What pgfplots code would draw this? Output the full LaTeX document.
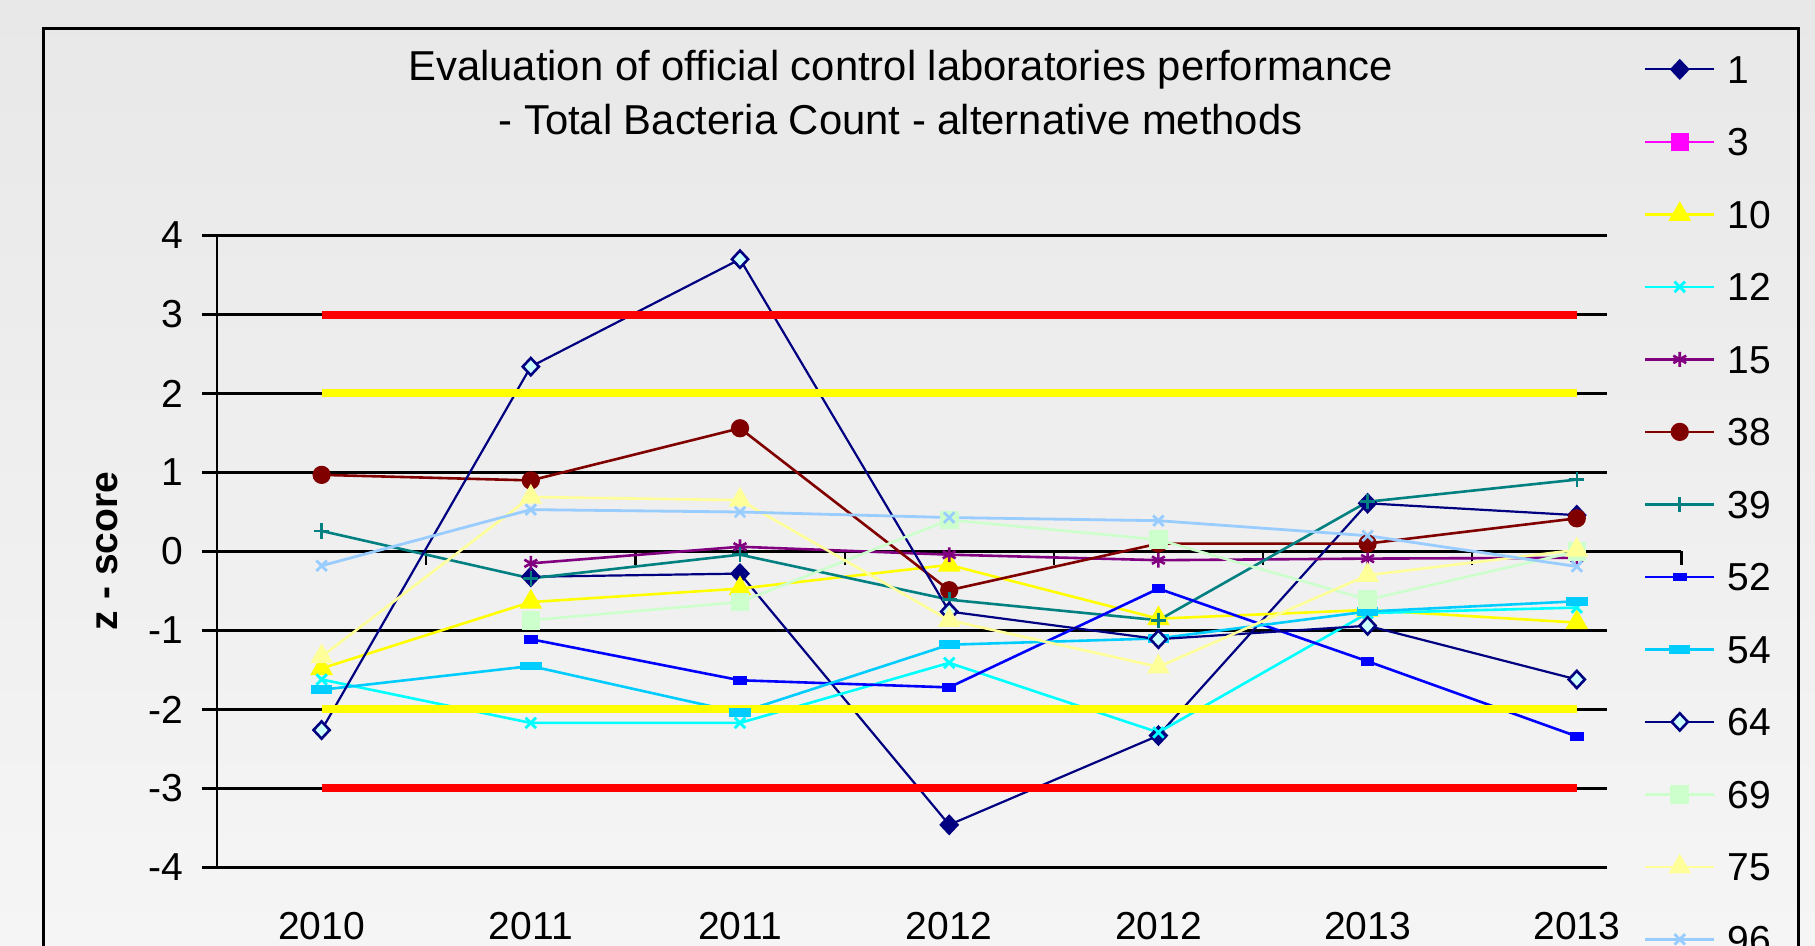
\documentclass[border=0pt]{standalone}
\usepackage{fontspec}
\setmainfont{Liberation Sans}
\usepackage{pgfplots}
\pgfplotsset{compat=1.18}
\definecolor{cnavy}{HTML}{000080}
\definecolor{cmag}{HTML}{FF00FF}
\definecolor{cyel}{HTML}{FFFF00}
\definecolor{ccyan}{HTML}{00FFFF}
\definecolor{cpurple}{HTML}{800080}
\definecolor{cmaroon}{HTML}{800000}
\definecolor{cteal}{HTML}{008080}
\definecolor{cblue}{HTML}{0000FF}
\definecolor{csky}{HTML}{00CCFF}
\definecolor{cltcyan}{HTML}{CCFFFF}
\definecolor{cltgreen}{HTML}{CCFFCC}
\definecolor{cltyel}{HTML}{FFFF99}
\definecolor{cpale}{HTML}{99CCFF}
\definecolor{cred}{HTML}{FF0000}
\definecolor{bgtop}{HTML}{E8E8E8}
\definecolor{bgbot}{HTML}{F5F5F5}
\begin{document}
\begin{tikzpicture}
\useasboundingbox (0,0) rectangle (907.5pt,473pt);
\clip (0,0) rectangle (907.5pt,473pt);
\shade[top color=bgtop, bottom color=bgbot] (0,0) rectangle (907.5pt,473pt);
\draw[black, line width=1.5pt] (21.65pt,-10pt) -- (21.65pt,458.85pt) -- (899.1pt,458.85pt) -- (899.1pt,-10pt);
\node[anchor=base, font=\fontsize{20.9}{24}\selectfont] at (450.25pt,432.5pt) {Evaluation of official control laboratories performance};
\node[anchor=base, font=\fontsize{20.9}{24}\selectfont] at (450.25pt,405.9pt) {- Total Bacteria Count - alternative methods};
\node[rotate=90, font=\fontsize{19.5}{23}\selectfont\bfseries] at (53.35pt,197.5pt) {z - score};
\begin{axis}[
  at={(108.5pt,39.25pt)}, anchor=south west,
  scale only axis, width=732.2pt, height=316pt,
  xmin=-0.5, xmax=6.5, ymin=-4, ymax=4,
  clip=false,
  axis line style={draw=none},
  major tick length=0pt,
  tick style={draw=none},
  xtick={0,...,6}, xticklabels={2010,2011,2011,2012,2012,2013,2013},
  ytick={-4,...,4}, yticklabels={-4,-3,-2,-1,0,1,2,3,4},
  xticklabel style={anchor=base, inner sep=0pt, yshift=-36.25pt},
  yticklabel style={anchor=east, inner sep=0pt, xshift=-16.5pt},
  tick label style={font=\fontsize{19.5}{23}\selectfont},
  legend cell align=left,
  legend style={at={(0.9743,1.2850)}, anchor=north west, draw=none, fill=none,
    inner sep=0pt, outer sep=0pt, row sep=22.25pt, column sep=5.85pt,
    font=\fontsize{19.5}{23}\selectfont,
    nodes={inner sep=0pt, text height=14pt, text depth=0pt}},
  legend image code/.code={\draw[mark repeat=2,mark phase=2,#1] plot coordinates {(0pt,0pt)(17.3pt,0pt)(34.65pt,0pt)};},
]
% gridlines
\pgfplotsinvokeforeach{-4,-3,-2,-1,1,2,3,4}{
  \addplot[black, line width=1.4pt, forget plot] coordinates {(-0.572,#1) (6.145,#1)};
}
\addplot[black, line width=1.4pt, forget plot] coordinates {(-0.572,0) (6.5,0)};
\pgfplotsinvokeforeach{0.5,1.5,2.5,3.5,4.5,5.5,6.5}{
  \addplot[black, line width=1.1pt, forget plot] coordinates {(#1,0) (#1,-0.177)};
}
\addplot[black, line width=1.4pt, forget plot] coordinates {(-0.5,-4) (-0.5,4)};
% series
\addplot[cnavy, line width=1.1pt, mark=diamond*, mark size=4.5pt, mark options={fill=cnavy, xscale=1.25}]
  coordinates {(1,-0.32)(2,-0.28)(3,-3.46)(4,-2.33)(5,0.61)(6,0.46)};
\addlegendentry{1}
\addlegendimage{cmag, line width=1.3pt, mark=square*, mark size=3.9pt, mark options={fill=cmag}}
\addlegendentry{3}
\addplot[cyel, line width=1.3pt, mark=triangle*, mark size=5.3pt, mark options={fill=cyel}]
  coordinates {(0,-1.48)(1,-0.64)(2,-0.47)(3,-0.17)(4,-0.85)(5,-0.74)(6,-0.90)};
\addlegendentry{10}
\addplot[ccyan, line width=1.3pt, mark=x, mark size=3.7pt, mark options={line width=1.4pt}]
  coordinates {(0,-1.62)(1,-2.17)(2,-2.17)(3,-1.41)(4,-2.29)(5,-0.78)(6,-0.71)};
\addlegendentry{12}
\addplot[cpurple, line width=1.3pt, mark=asterisk, mark size=3.7pt, mark options={line width=1.3pt}]
  coordinates {(1,-0.15)(2,0.06)(3,-0.04)(4,-0.11)(5,-0.09)(6,-0.08)};
\addlegendentry{15}
\addplot[cmaroon, line width=1.3pt, mark=*, mark size=3.9pt, mark options={fill=cmaroon}]
  coordinates {(0,0.97)(1,0.90)(2,1.56)(3,-0.49)(4,0.10)(5,0.10)(6,0.42)};
\addlegendentry{38}
\addplot[cteal, line width=1.3pt, mark=+, mark size=3.8pt, mark options={line width=1.3pt}]
  coordinates {(0,0.26)(1,-0.34)(2,-0.04)(3,-0.61)(4,-0.87)(5,0.63)(6,0.91)};
\addlegendentry{39}
\addplot[cblue, line width=1.3pt, mark=square*, mark size=2.75pt, mark options={fill=cblue, yscale=0.55}]
  coordinates {(1,-1.11)(2,-1.63)(3,-1.72)(4,-0.47)(5,-1.39)(6,-2.34)};
\addlegendentry{52}
\addplot[csky, line width=1.3pt, mark=square*, mark size=4.7pt, mark options={fill=csky, yscale=0.33}]
  coordinates {(0,-1.75)(1,-1.45)(2,-2.04)(3,-1.18)(4,-1.10)(5,-0.76)(6,-0.63)};
\addlegendentry{54}
\addplot[cnavy, line width=1.1pt, mark=diamond*, mark size=4.3pt, mark options={fill=cltcyan, draw=cnavy, line width=1.3pt, xscale=1.25}]
  coordinates {(0,-2.26)(1,2.34)(2,3.70)(3,-0.76)(4,-1.11)(5,-0.94)(6,-1.62)};
\addlegendentry{64}
\addplot[cltgreen, line width=1.3pt, mark=square*, mark size=4pt, mark options={fill=cltgreen}]
  coordinates {(1,-0.87)(2,-0.64)(3,0.40)(4,0.15)(5,-0.61)(6,0.00)};
\addlegendentry{69}
\addplot[cltyel, line width=1.3pt, mark=triangle*, mark size=5.3pt, mark options={fill=cltyel}]
  coordinates {(0,-1.33)(1,0.69)(2,0.65)(3,-0.87)(4,-1.46)(5,-0.30)(6,0.02)};
\addlegendentry{75}
\addplot[cpale, line width=1.4pt, mark=x, mark size=3.7pt, mark options={line width=1.4pt}]
  coordinates {(0,-0.18)(1,0.53)(2,0.50)(3,0.43)(4,0.39)(5,0.20)(6,-0.19)};
\addlegendentry{96}
% limit lines
\addplot[cred, line width=4pt, forget plot] coordinates {(0,3)(1,3)(2,3)(3,3)(4,3)(5,3)(6,3)};
\addplot[cyel, line width=4pt, forget plot] coordinates {(0,2)(1,2)(2,2)(3,2)(4,2)(5,2)(6,2)};
\addplot[cyel, line width=4pt, forget plot] coordinates {(0,-2)(1,-2)(2,-2)(3,-2)(4,-2)(5,-2)(6,-2)};
\addplot[cred, line width=4pt, forget plot] coordinates {(0,-3)(1,-3)(2,-3)(3,-3)(4,-3)(5,-3)(6,-3)};
\end{axis}
\end{tikzpicture}
\end{document}
